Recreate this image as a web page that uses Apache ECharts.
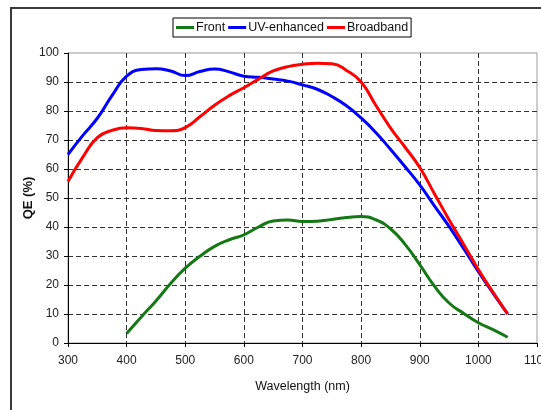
<!DOCTYPE html>
<html>
<head>
<meta charset="utf-8">
<script src="https://cdn.jsdelivr.net/npm/echarts@6/dist/echarts.min.js"></script>
<style>
  html, body { margin: 0; padding: 0; background: #fff; }
  #chart { width: 541px; height: 410px; }
</style>
</head>
<body>
<div id="chart"></div>
<script>
// Quantum efficiency curves sampled every 25 nm
var wavelengths = [300, 325, 350, 375, 400, 425, 450, 475, 500, 525, 550, 575, 600, 625, 650, 675,
                   700, 725, 750, 775, 800, 825, 850, 875, 900, 925, 950, 975, 1000, 1025, 1050];

var front = [null, null, null, null, 3.3, 9, 14.5, 20.5, 25.8, 29.9, 33.3, 35.6, 37.3, 40.0, 42.1, 42.4,
             41.9, 42.0, 42.6, 43.3, 43.6, 42.5, 39.4, 34, 27, 19.6, 13.8, 10.2, 7, 4.6, 2];

var uvEnhanced = [65, 71.5, 77.5, 85.3, 92, 94.3, 94.6, 93.8, 92.2, 93.6, 94.5, 93.5, 92, 91.6, 91, 90.3,
                  89, 87.5, 85, 81.8, 77.6, 72.6, 66.8, 60.8, 54.5, 47.3, 40.2, 32.5, 24.6, 17.2, 10];

var broadband = [55.7, 64, 70.8, 73.3, 74.2, 74, 73.3, 73.2, 74.3, 78, 82, 85.3, 88, 91, 93.8, 95.3,
                 96.1, 96.5, 96.3, 94, 90, 82, 74.2, 67.5, 60.5, 51.5, 42.5, 34, 25.3, 17.5, 10];

var seriesNames = ['Front', 'UV-enhanced', 'Broadband'];
var seriesColors = ['#147814', '#0000ff', '#ff0000'];

function pairs(values) {
  return wavelengths.map(function (w, i) { return [w, values[i]]; });
}

var font = '"Liberation Sans", Arial, sans-serif';

function lineSeries(name, values, color) {
  return {
    name: name,
    type: 'line',
    data: pairs(values),
    smooth: 0.5,
    showSymbol: false,
    connectNulls: false,
    lineStyle: { color: color, width: 3 },
    itemStyle: { color: color },
    emphasis: { disabled: true },
    animation: false
  };
}

var chart = echarts.init(document.getElementById('chart'), null, { renderer: 'canvas' });

chart.setOption({
  animation: false,
  backgroundColor: '#ffffff',
  textStyle: { fontFamily: font },
  graphic: [{
    type: 'rect',
    shape: { x: 11, y: 8, width: 700, height: 600 },
    style: { fill: 'none', stroke: '#3a3a3a', lineWidth: 2 },
    silent: true,
    z: -10
  }],
  legend: {
    left: 173,
    top: 18,
    padding: [3, 3, 3, 3],
    itemGap: 3,
    itemWidth: 18,
    itemHeight: 3,
    icon: 'rect',
    borderColor: '#000',
    borderWidth: 1,
    backgroundColor: '#fff',
    textStyle: { fontFamily: font, fontSize: 12.5, color: '#111', padding: [0, 0, 0, -3] },
    data: seriesNames
  },
  grid: {
    left: 68,
    right: 4,
    top: 53,
    bottom: 67,
    outerBoundsMode: 'none',
    containLabel: false,
    show: true,
    borderColor: '#999',
    borderWidth: 1,
    backgroundColor: 'transparent'
  },
  xAxis: {
    type: 'value',
    min: 300,
    max: 1100,
    interval: 100,
    name: 'Wavelength (nm)',
    nameLocation: 'middle',
    nameGap: 37,
    nameMoveOverlap: false,
    nameTextStyle: { fontFamily: font, fontSize: 12.5, color: '#111' },
    axisLine: { show: true, onZero: false, lineStyle: { color: '#000', width: 1 } },
    axisTick: { show: true, length: 4, lineStyle: { color: '#000' } },
    axisLabel: {
      fontFamily: font, fontSize: 12, color: '#222', margin: 12,
      formatter: function (v) { return String(v); }
    },
    splitLine: {
      show: true,
      showMinLine: false,
      showMaxLine: false,
      lineStyle: { color: '#333', width: 1, type: [5, 3] }
    }
  },
  yAxis: {
    type: 'value',
    min: 0,
    max: 100,
    interval: 10,
    name: 'QE (%)',
    nameLocation: 'middle',
    nameGap: 33,
    nameRotate: 90,
    nameMoveOverlap: false,
    nameTextStyle: { fontFamily: font, fontSize: 13, fontWeight: 'bold', color: '#111' },
    axisLine: { show: true, lineStyle: { color: '#000', width: 1 } },
    axisTick: { show: true, length: 4, lineStyle: { color: '#000' } },
    axisLabel: { fontFamily: font, fontSize: 12, color: '#222', margin: 9 },
    splitLine: {
      show: true,
      showMinLine: false,
      showMaxLine: false,
      lineStyle: { color: '#333', width: 1, type: [5, 3] }
    }
  },
  series: [
    lineSeries(seriesNames[0], front, seriesColors[0]),
    lineSeries(seriesNames[1], uvEnhanced, seriesColors[1]),
    lineSeries(seriesNames[2], broadband, seriesColors[2])
  ]
});
</script>
</body>
</html>
